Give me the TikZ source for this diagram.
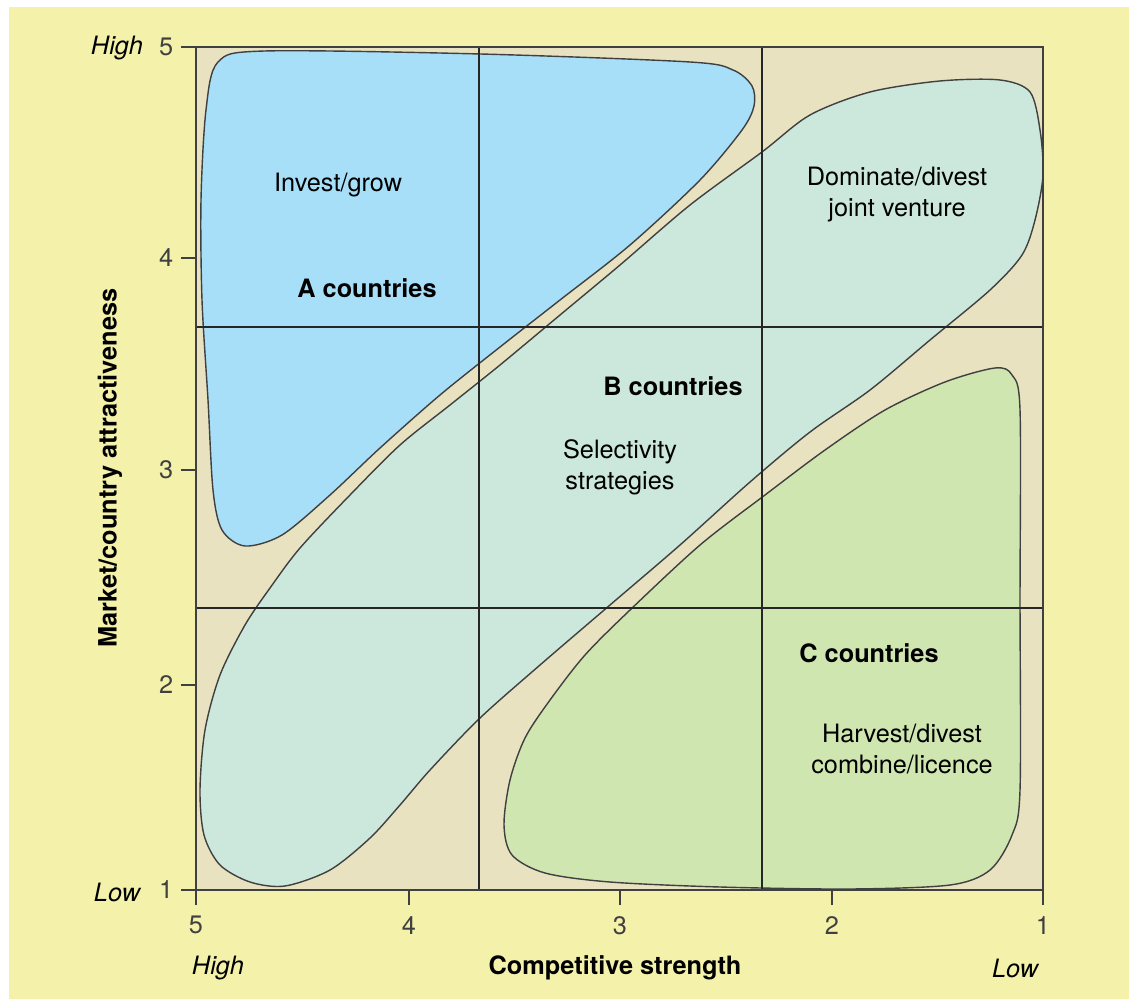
\documentclass[tikz,border=0pt]{standalone}
\usepackage{fontspec}
\setsansfont{TeX Gyre Heros}

\definecolor{paper}{RGB}{243,241,170}
\definecolor{plotbg}{RGB}{232,226,192}
\definecolor{aclr}{RGB}{168,223,248}
\definecolor{bclr}{RGB}{204,232,220}
\definecolor{cclr}{RGB}{208,230,176}

\begin{document}
\begin{tikzpicture}[x=0.1mm,y=-0.1mm,
  font=\sffamily\fontsize{7.2}{8.8}\selectfont,
  region/.style={draw=black!75,line width=0.4pt},
  head/.style={font=\sffamily\bfseries\fontsize{7.2}{8.8}\selectfont},
  ends/.style={font=\sffamily\itshape\fontsize{7.2}{8.8}\selectfont},
  every node/.style={align=center}]

%paper and plot area
    \useasboundingbox (0,0) rectangle (1129,999);
    \fill[white] (0,0) rectangle (1129,999);
    \fill[paper] (9,7) rectangle (1129,999);
    \fill[plotbg] (196,47) rectangle (1043,890);

%draw regions
    \draw[region,fill=aclr] plot[smooth cycle,tension=0.5] coordinates {
      (206,110) (218,62) (265,51) (480,54) (690,62) (733,70) (752,86)
      (754,106) (742,130) (700,180) (630,245) (560,300) (500,347) (440,395)
      (380,448) (330,495) (282,535) (245,546) (222,530) (213,490)
      (208,400) (202,300) (201,200)};
    \draw[region,fill=bclr] plot[smooth cycle,tension=0.5] coordinates {
      (1000,80) (1030,92) (1040,130) (1043,175) (1035,220) (1022,255)
      (990,290) (930,340) (870,390) (810,432) (750,482) (680,545)
      (610,605) (540,665) (480,718) (430,770) (400,805) (370,838)
      (330,870) (285,886) (250,882) (220,865) (204,835) (200,790)
      (205,730) (220,675) (245,625) (270,588) (300,548) (350,495)
      (400,445) (450,405) (500,365) (560,315) (620,265) (690,205)
      (762,152) (810,115) (870,92) (940,81)};
    \draw[region,fill=cclr] plot[smooth cycle,tension=0.5] coordinates {
      (995,368) (1012,375) (1020,410) (1020,600) (1020,790) (1012,835)
      (990,870) (950,885) (850,889) (720,887) (610,882) (545,873)
      (512,855) (504,825) (510,780) (525,738) (550,700) (585,655)
      (630,610) (700,545) (765,495) (825,450) (885,410) (945,382)};

%draw grid and frame
    \draw[black!85,line width=0.35pt] (479,47) -- (479,890) (762,47) -- (762,890)
      (196,327) -- (1043,327) (196,608) -- (1043,608);
    \draw[black!75,line width=0.6pt] (196,47) rectangle (1043,890);

%label and tic axes
    \foreach \y/\ytext in {47/5, 258/4, 470/3, 685/2, 890/1}
    \draw[black!75,line width=0.5pt] (196,\y) -- (181,\y) node[left,inner sep=2pt] (yt\ytext) {$\mathsf{\ytext}$};
    \foreach \x/\xtext in {196/5, 409/4, 620/3, 832/2, 1043/1}
    \draw[black!75,line width=0.5pt] (\x,890) -- (\x,905) node[below,inner sep=3pt] (xt\xtext) {\xtext};

    \node[ends] (yhigh) at (117,48) {High};
    \node[ends] (ylow) at (117,892) {Low};
    \node[ends] (xhigh) at (218,968) {High};
    \node[ends] (xlow) at (1015,968) {Low};
    \node[head] (xlabel) at (615,968) {Competitive strength};
    \node[head,rotate=90] (ylabel) at (110,468) {Market/country attractiveness};

%region labels
    \node (agrow) at (338,185) {Invest/grow};
    \node[head] (acty) at (367,288) {A countries};
    \node (bdom) at (897,195) {Dominate/divest\\joint venture};
    \node[head] (bcty) at (673,386) {B countries};
    \node (bsel) at (620,467) {Selectivity\\strategies};
    \node[head] (ccty) at (869,653) {C countries};
    \node (charv) at (902,749) {Harvest/divest\\combine/licence};

    \end{tikzpicture}
\end{document}
